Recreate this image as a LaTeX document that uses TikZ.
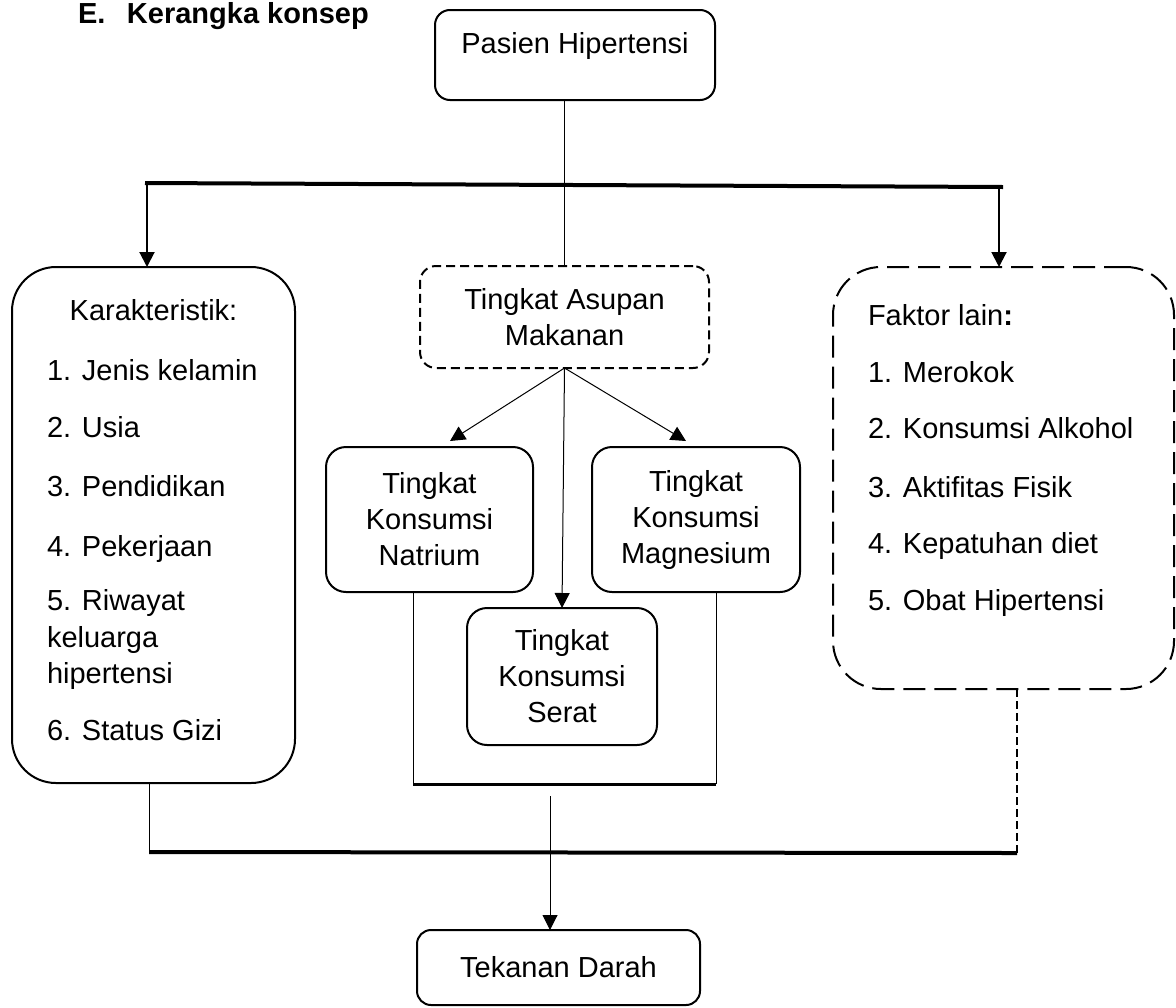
\documentclass[tikz,border=0pt]{standalone}
\usepackage{fontspec}
\setmainfont{Liberation Sans}
\usetikzlibrary{arrows.meta,calc}
\begin{document}
\begin{tikzpicture}[x=0.5pt,y=-0.5pt,
  every node/.style={font=\fontsize{14.5}{18}\selectfont, inner sep=0pt, outer sep=0pt},
  box/.style={draw, line width=1pt, align=center},
  dbox/.style={box, dash pattern=on 11pt off 4.5pt},
  sdbox/.style={box, dash pattern=on 4.5pt off 2.5pt},
  thinline/.style={line width=0.5pt},
  heavy/.style={line width=2pt},
  arr/.style={-{Triangle[length=7.5pt,width=7.5pt]}},
  lbl/.style={anchor=base west}]
\useasboundingbox (0,0) rectangle (1176,1007);
\fill[white] (0,0) rectangle (1176,1007);

% title
\node[anchor=base west, font=\fontsize{14.5}{18}\selectfont\bfseries] (title) at (78,23) {E.\hspace{10.8pt}Kerangka konsep};

% boxes
\node[box, rounded corners=7.5pt, minimum width=140pt, minimum height=45pt] (pasien) at (575,55) {};
\node[anchor=base] (pasientxt) at (575,53) {Pasien Hipertensi};

\node[box, rounded corners=22pt, minimum width=141.5pt, minimum height=258pt] (karak) at (153.5,525) {};
\node[anchor=base] (k0) at (153.5,320) {Karakteristik:};
\node[lbl] (k1) at (47,380) {1. Jenis kelamin};
\node[lbl] (k2) at (47,437) {2. Usia};
\node[lbl] (k3) at (47,496) {3. Pendidikan};
\node[lbl] (k4) at (47,556) {4. Pekerjaan};
\node[lbl] (k5) at (47,610) {5. Riwayat};
\node[lbl] (k5b) at (47,647) {keluarga};
\node[lbl] (k5c) at (47,683) {hipertensi};
\node[lbl] (k6) at (47,740) {6. Status Gizi};

\node[dbox, rounded corners=24pt, minimum width=170.5pt, minimum height=211pt] (faktor) at (1003.5,478) {};
\node[lbl] (f0) at (868,325) {Faktor lain\textbf{:}};
\node[lbl] (f1) at (868,382) {1. Merokok};
\node[lbl] (f2) at (868,438) {2. Konsumsi Alkohol};
\node[lbl] (f3) at (868,497) {3. Aktifitas Fisik};
\node[lbl] (f4) at (868,553) {4. Kepatuhan diet};
\node[lbl] (f5) at (868,610) {5. Obat Hipertensi};

\node[sdbox, rounded corners=8pt, minimum width=144.5pt, minimum height=51pt] (asupan) at (564.5,317) {Tingkat Asupan\\Makanan};

\node[box, rounded corners=10pt, minimum width=103.5pt, minimum height=72.5pt] (natrium) at (429.5,519.5) {Tingkat\\Konsumsi\\Natrium};
\node[box, rounded corners=10pt, minimum width=104pt, minimum height=72.5pt] (magnesium) at (696,519.5) {Tingkat\\Konsumsi\\Magnesium};
\node[box, rounded corners=10pt, minimum width=95pt, minimum height=68.5pt] (serat) at (562,676.5) {Tingkat\\Konsumsi\\Serat};

\node[box, rounded corners=7pt, minimum width=141.5pt, minimum height=37.5pt] (tekanan) at (558.5,967.5) {Tekanan Darah};

% connectors top
\draw[thinline] (pasien.south -| asupan.north) -- (asupan.north);
\coordinate (tl0) at (145,183);
\coordinate (tl) at (147,183);
\coordinate (tr) at (999,187);
\coordinate (tr0) at (1003,187);
\draw[heavy] (tl0) -- (tr0);
\draw[line width=1pt, arr] (tl) -- (tl |- karak.north);
\draw[line width=1pt, arr] (tr) -- (tr |- faktor.north);

% asupan arrows
\coordinate (natin) at (450,441);
\coordinate (magin) at (686,441);
\draw[thinline, arr] (asupan.south) -- (natin);
\draw[thinline, arr] (asupan.south) -- (magin);
\draw[thinline, arr] (asupan.south) -- (serat.north);

% bracket
\coordinate (bl) at (413,784);
\coordinate (br) at (716,784);
\draw[thinline] (natrium.south -| bl) -- (bl);
\draw[thinline] (magnesium.south -| br) -- (br);
\draw[line width=1.5pt] (bl) -- (br);

\coordinate (tda) at (550,796);
\draw[thinline, arr] (tda) -- (tda |- tekanan.north);

% bottom line
\coordinate (bbl) at (149,852);
\coordinate (bbr) at (1017,853);
\draw[thinline] (karak.south -| bbl) -- (bbl);
\draw[heavy] (bbl) -- (bbr);
\draw[line width=0.6pt, dash pattern=on 4pt off 2pt] (faktor.south -| bbr) -- (bbr);
\end{tikzpicture}
\end{document}
